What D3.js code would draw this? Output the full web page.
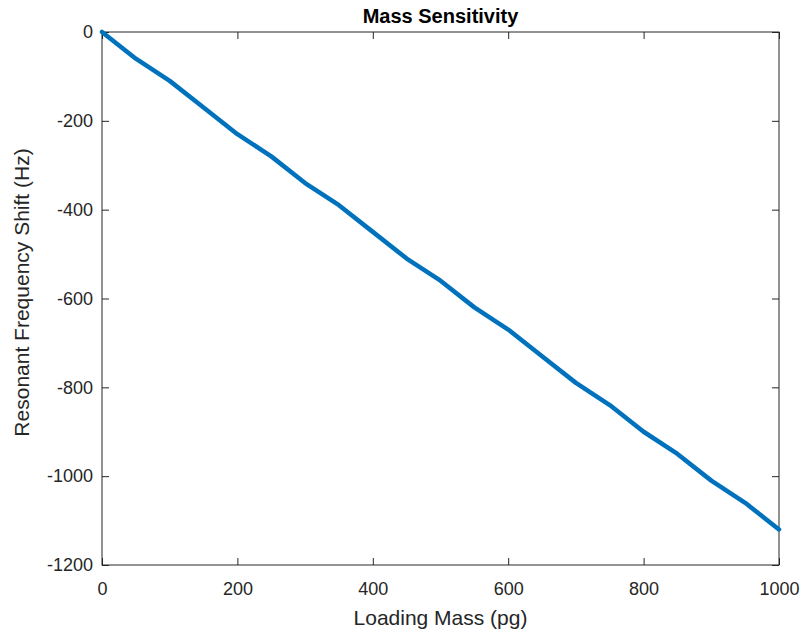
<!DOCTYPE html>
<html>
<head>
<meta charset="utf-8">
<script src="https://cdn.jsdelivr.net/npm/d3@7"></script>
<style>
  body { margin: 0; background: #fff; }
  svg text { font-family: "Liberation Sans", Arial, Helvetica, sans-serif; fill: #262626; }
</style>
</head>
<body>
<div id="chart"></div>
<script>
// Loading mass (pg) and resonant frequency shift (Hz)
const massValues = [0, 50, 100, 150, 200, 250, 300, 350, 400, 450, 500, 550, 600, 650, 700, 750, 800, 850, 900, 950, 1000]
const shiftValues = [0, -60, -110, -170, -230, -280, -340, -390, -450, -510, -560, -620, -670, -730, -790, -840, -900, -950, -1010, -1060, -1120]
const xTicks = [0, 200, 400, 600, 800, 1000]
const yTicks = [0, -200, -400, -600, -800, -1000, -1200]

const width = 804
const height = 633
const margin = { top: 32, right: 25, bottom: 68, left: 102 }
const innerW = width - margin.left - margin.right
const innerH = height - margin.top - margin.bottom

const svg = d3.select("#chart")
  .append("svg")
  .attr("width", width)
  .attr("height", height)

const g = svg.append("g")
  .attr("transform", `translate(${margin.left},${margin.top})`)

const xScale = d3.scaleLinear().domain([0, 1000]).range([0, innerW])
const yScale = d3.scaleLinear().domain([-1200, 0]).range([innerH, 0])

const axisColor = "#262626"
const tickLen = 7
const tickFont = "18px"
// plain hyphen for negatives, like the original
const fmt = d => String(d)

// Box
g.append("rect")
  .attr("width", innerW)
  .attr("height", innerH)
  .style("fill", "none")
  .style("stroke", axisColor)
  .style("stroke-width", 1)

// Ticks pointing inward on all four sides
const styleAxis = sel => {
  sel.select(".domain").remove()
  sel.selectAll("line").style("stroke", axisColor)
  sel.selectAll("text").style("font-size", tickFont).style("fill", axisColor)
}

g.append("g")
  .attr("transform", `translate(0,${innerH})`)
  .call(d3.axisBottom(xScale).tickValues(xTicks).tickSize(-tickLen).tickPadding(17).tickFormat(fmt))
  .call(styleAxis)

g.append("g")
  .call(d3.axisTop(xScale).tickValues(xTicks).tickSize(-tickLen).tickFormat(""))
  .call(styleAxis)

g.append("g")
  .call(d3.axisLeft(yScale).tickValues(yTicks).tickSize(-tickLen).tickPadding(9).tickFormat(fmt))
  .call(styleAxis)

g.append("g")
  .attr("transform", `translate(${innerW},0)`)
  .call(d3.axisRight(yScale).tickValues(yTicks).tickSize(-tickLen).tickFormat(""))
  .call(styleAxis)

// Data line
const line = d3.line()
  .x((d, i) => xScale(massValues[i]))
  .y(d => yScale(d))

g.append("path")
  .datum(shiftValues)
  .attr("d", line)
  .style("fill", "none")
  .style("stroke", "#0072BD")
  .style("stroke-width", 4.5)
  .style("stroke-linejoin", "round")
  .style("stroke-linecap", "round")

// Title and axis labels
svg.append("text")
  .attr("x", margin.left + innerW / 2)
  .attr("y", 23)
  .attr("text-anchor", "middle")
  .style("font-size", "20px")
  .style("font-weight", "bold")
  .style("fill", "#000")
  .text("Mass Sensitivity")

svg.append("text")
  .attr("x", margin.left + innerW / 2)
  .attr("y", 625)
  .attr("text-anchor", "middle")
  .style("font-size", "21px")
  .text("Loading Mass (pg)")

svg.append("text")
  .attr("transform", `translate(29,${margin.top + innerH / 2 - 6}) rotate(-90)`)
  .attr("text-anchor", "middle")
  .style("font-size", "21px")
  .text("Resonant Frequency Shift (Hz)")
</script>
</body>
</html>
